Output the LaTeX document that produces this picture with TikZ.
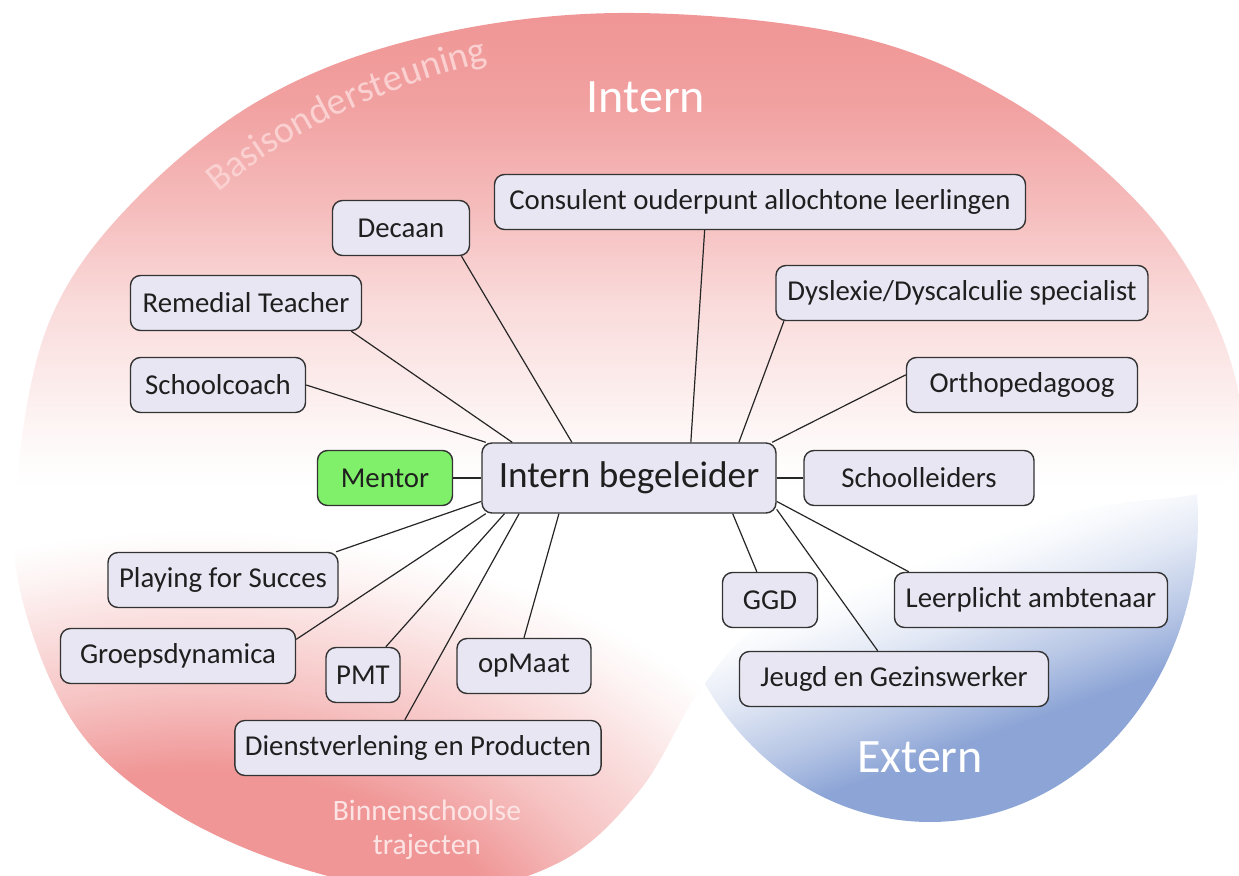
\documentclass[tikz,border=0pt]{standalone}
\usepackage{fontspec}
\setmainfont{Carlito}
\usetikzlibrary{positioning,decorations.text}
\definecolor{internred}{RGB}{240,150,150}
\definecolor{externblue}{RGB}{141,165,214}
\definecolor{boxfill}{RGB}{232,230,242}
\definecolor{mentorgreen}{RGB}{128,240,106}
\definecolor{paletext}{RGB}{250,208,208}
\definecolor{lighttext}{RGB}{253,228,228}
\pgfdeclareverticalshading{interntop}{100bp}{color(0bp)=(white); color(40bp)=(white); color(43bp)=(internred!6!white); color(53bp)=(internred!35!white); color(60bp)=(internred!65!white); color(67bp)=(internred!90!white); color(73bp)=(internred); color(100bp)=(internred)}
\pgfdeclareradialshading{internglow}{\pgfpoint{0bp}{0bp}}{color(0bp)=(internred); color(11.5bp)=(internred); color(15.5bp)=(internred!58!white); color(19.5bp)=(internred!28!white); color(21.5bp)=(internred!12!white); color(23.5bp)=(white); color(50bp)=(white)}
\pgfdeclareverticalshading{externfade}{100bp}{color(0bp)=(externblue); color(31bp)=(externblue); color(35.5bp)=(externblue!62!white); color(41bp)=(externblue!25!white); color(45bp)=(externblue!6!white); color(47bp)=(white); color(100bp)=(white)}

\begin{document}
\begin{tikzpicture}[x=0.5pt,y=-0.5pt]
		\tikzstyle{every node}+=[font=\fontsize{14.4}{16}\selectfont]
		\tikzstyle{member}=[draw=black!80, fill=boxfill, text=black!88, rounded corners=5pt, line width=0.7pt, minimum height=27.5pt, inner xsep=5pt]
		\tikzstyle{link}=[draw=black!85, line width=0.6pt]
		\useasboundingbox (0,0) rectangle (1239,876);
		\clip (0,0) rectangle (1239,876);
		\shade [shading=externfade, shading angle=20] (930,520) ellipse [x radius=134pt, y radius=151pt];
		\begin{scope}
			\clip plot [smooth cycle, tension=0.6] coordinates {(620,13) (850,35) (1010,100) (1140,205) (1215,320) (1243,430) (1215,488) (1080,510) (880,565) (760,625) (700,690) (640,790) (560,862) (440,893) (300,868) (170,810) (75,725) (20,590) (18,470) (50,320) (130,205) (260,100) (420,38)};
			\shade [shading=interntop] (-10,-10) rectangle (1260,700);
			\shade [shading=internglow] (200,1000) ellipse [x radius=360pt, y radius=250pt];
		\end{scope}
		\node [text=white, font=\fontsize{24}{28}\selectfont] (intern) at (646,97) {Intern};
		\node [text=white, font=\fontsize{24}{28}\selectfont] (extern) at (920,757) {Extern};
		\node [text=lighttext, align=center, font=\fontsize{14.8}{17}\selectfont] (binnen) at (427,830) {Binnenschoolse\\trajecten};
		\path [decorate, decoration={text along path, text align=center, text color=paletext, text={|\fontsize{19}{19}\selectfont|Basisondersteuning}}] (148,262) .. controls (250,142) and (390,72) .. (585,42);
		\node [member, minimum width=147pt, minimum height=35pt, font=\fontsize{18.6}{21}\selectfont] (ib) at (629,478) {Intern begeleider};
		\node [member, minimum width=68.5pt] (decaan) at (401,228) {Decaan};
		\node [member, minimum width=265.5pt] (consulent) at (760,202) {Consulent ouderpunt allochtone leerlingen};
		\node [member, minimum width=115.5pt] (remedial) at (246,303) {Remedial Teacher};
		\node [member, minimum width=186pt] (dyslexie) at (962,293) {Dyslexie/Dyscalculie specialist};
		\node [member, minimum width=87.5pt] (coach) at (218,385) {Schoolcoach};
		\node [member, minimum width=115.5pt] (ortho) at (1022,385) {Orthopedagoog};
		\node [member, fill=mentorgreen, minimum width=67.5pt] (mentor) at (385,478) {Mentor};
		\node [member, minimum width=115pt] (leiders) at (919,478) {Schoolleiders};
		\node [member, minimum width=115pt] (playing) at (223,580) {Playing for Succes};
		\node [member, minimum width=117.5pt] (groep) at (178,656) {Groepsdynamica};
		\node [member, minimum width=37pt] (pmt) at (363,675) {PMT};
		\node [member, minimum width=67pt] (opmaat) at (524,666) {opMaat};
		\node [member, minimum width=182pt] (dienst) at (418,748) {Dienstverlening en Producten};
		\node [member, minimum width=47.5pt] (ggd) at (770,600) {GGD};
		\node [member, minimum width=136.5pt] (leerplicht) at (1031,600) {Leerplicht ambtenaar};
		\node [member, minimum width=154.5pt] (jeugd) at (894,679) {Jeugd en Gezinswerker};
		\draw [link] (ib.148) -- (decaan.335);
		\draw [link] (ib.30) -- (consulent.207);
		\draw [link] (ib.163) -- (remedial.345);
		\draw [link] (ib.166) -- (coach.east);
		\draw [link] (ib.18) -- (dyslexie.189);
		\draw [link] (ib.14) -- (ortho.175);
		\draw [link] (ib.west) -- (mentor.east);
		\draw [link] (ib.east) -- (leiders.west);
		\draw [link] (ib.189) -- (playing.14);
		\draw [link] (ib.194) -- (groep.8);
		\draw [link] (ib.196) -- (pmt.51);
		\draw [link] (ib.198) -- (dienst.115);
		\draw [link] (ib.207) -- (opmaat.north);
		\draw [link] (ib.341) -- (ggd.115);
		\draw [link] (ib.348) -- (jeugd.120);
		\draw [link] (ib.351) -- (leerplicht.167);
\end{tikzpicture}
\end{document}
